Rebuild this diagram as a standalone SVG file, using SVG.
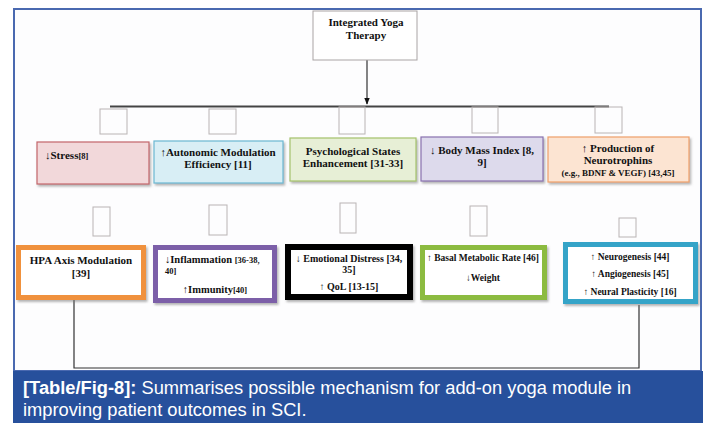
<svg xmlns="http://www.w3.org/2000/svg" width="707" height="423" viewBox="0 0 707 423">
<defs>
<filter id="sh" x="-10%" y="-10%" width="120%" height="130%">
<feDropShadow dx="1.5" dy="2" stdDeviation="1" flood-color="#777" flood-opacity="0.55"/>
</filter>
<marker id="ah" viewBox="0 0 10 10" refX="9" refY="5" markerWidth="6" markerHeight="6" orient="auto">
<path d="M0,1 L10,5 L0,9 z" fill="#111"/>
</marker>
<style>
.t{font-family:"Liberation Serif","Times New Roman",serif;font-weight:bold;fill:#111;}
.s{font-size:8.5px;}
.sq{fill:none;stroke:#b9b4b4;stroke-width:1;}
.ln{fill:none;stroke:#333;stroke-width:1.2;}
.cap{font-family:"Liberation Sans",Arial,sans-serif;font-size:18.3px;fill:#fff;}
</style>
</defs>
<rect x="0" y="0" width="707" height="423" fill="#ffffff"/>
<rect x="14" y="9" width="687" height="362" fill="#fdfdfe" stroke="#4a69b0" stroke-width="2"/>

<g id="connectors">
<line x1="367" y1="60" x2="367" y2="104" class="ln" marker-end="url(#ah)"/>
<line x1="110" y1="106.5" x2="609" y2="106.5" stroke="#444" stroke-width="2"/>
<rect class="sq" x="100" y="109" width="27" height="25"/>
<rect class="sq" x="209" y="109" width="27" height="25"/>
<rect class="sq" x="339" y="107" width="26" height="27"/>
<rect class="sq" x="472" y="107" width="26" height="26"/>
<rect class="sq" x="595" y="107" width="27" height="26"/>
<rect class="sq" x="93" y="207" width="17" height="29"/>
<rect class="sq" x="209" y="205" width="18" height="30"/>
<rect class="sq" x="340" y="203" width="16" height="30"/>
<rect class="sq" x="470" y="206" width="17" height="30"/>
<rect class="sq" x="619" y="218" width="17" height="19"/>
<polyline class="ln" points="74,300 74,368 639,368 639,305"/>
</g>

<g id="top">
<rect x="313" y="11" width="104" height="49" fill="#fff" stroke="#a9a4a4" stroke-width="1"/>
<text class="t" font-size="11" x="366" y="26" text-anchor="middle">Integrated Yoga</text>
<text class="t" font-size="11" x="366" y="39" text-anchor="middle">Therapy</text>
</g>

<g id="stress">
<rect x="37" y="142" width="112" height="42" fill="#f2d8da" stroke="#c3666b" stroke-width="1.2" filter="url(#sh)"/>
<text class="t" font-size="11" x="45" y="159">↓Stress<tspan class="s">[8]</tspan></text>
</g>

<g id="autonomic">
<rect x="154" y="141" width="129" height="42" fill="#d8eef5" stroke="#6cb8d2" stroke-width="1.2" filter="url(#sh)"/>
<text class="t" font-size="11" x="218" y="156" text-anchor="middle">↑Autonomic Modulation</text>
<text class="t" font-size="11" x="218" y="168" text-anchor="middle">Efficiency [11]</text>
</g>

<g id="psych">
<rect x="290" y="138" width="126" height="43" fill="#e7efd6" stroke="#a5c26c" stroke-width="1.2" filter="url(#sh)"/>
<text class="t" font-size="11" x="353" y="155" text-anchor="middle">Psychological States</text>
<text class="t" font-size="11" x="353" y="167" text-anchor="middle">Enhancement [31-33]</text>
</g>

<g id="bmi">
<rect x="421" y="137" width="122" height="44" fill="#dddaec" stroke="#8a72b0" stroke-width="1.2" filter="url(#sh)"/>
<text class="t" font-size="11" x="482" y="154" text-anchor="middle">↓ Body Mass Index [8,</text>
<text class="t" font-size="11" x="482" y="166" text-anchor="middle">9]</text>
</g>

<g id="neurotrophins">
<rect x="548" y="137" width="141" height="45" fill="#fce4d2" stroke="#eea06a" stroke-width="1.2" filter="url(#sh)"/>
<text class="t" font-size="11" x="618" y="152" text-anchor="middle">↑ Production of</text>
<text class="t" font-size="11" x="618" y="164" text-anchor="middle">Neurotrophins</text>
<text class="t" font-size="9" x="618" y="176" text-anchor="middle">(e.g., BDNF &amp; VEGF) [43,45]</text>
</g>

<g id="hpa">
<rect x="18.5" y="247.5" width="125" height="50" fill="#fff" stroke="#f0913d" stroke-width="5" filter="url(#sh)"/>
<text class="t" font-size="11" x="81" y="264" text-anchor="middle">HPA Axis Modulation</text>
<text class="t" font-size="11" x="81" y="277" text-anchor="middle">[39]</text>
</g>

<g id="inflammation">
<rect x="155.5" y="247.5" width="119" height="53" fill="#fff" stroke="#7c5fa8" stroke-width="5" filter="url(#sh)"/>
<text class="t" font-size="10.5" x="165" y="263">↓Inflammation <tspan class="s">[36-38,</tspan></text>
<text class="t s" x="165" y="274">40]</text>
<text class="t" font-size="10.5" x="215" y="293" text-anchor="middle">↑Immunity<tspan class="s">[40]</tspan></text>
</g>

<g id="emotional">
<rect x="288" y="247" width="122" height="50" fill="#fff" stroke="#000" stroke-width="6" filter="url(#sh)"/>
<text class="t" font-size="10" x="349" y="262" text-anchor="middle">↓ Emotional Distress [34,</text>
<text class="t" font-size="10" x="349" y="273" text-anchor="middle">35]</text>
<text class="t" font-size="10" x="349" y="290" text-anchor="middle">↑ QoL [13-15]</text>
</g>

<g id="basal">
<rect x="422.5" y="247.5" width="122" height="50" fill="#fff" stroke="#8cbb3f" stroke-width="5" filter="url(#sh)"/>
<text class="t" font-size="9.5" x="483" y="261" text-anchor="middle">↑ Basal Metabolic Rate [46]</text>
<text class="t" font-size="9.5" x="483" y="281" text-anchor="middle">↓Weight</text>
</g>

<g id="neuro">
<rect x="565.5" y="244.5" width="130" height="57" fill="#fff" stroke="#36a4c8" stroke-width="5" filter="url(#sh)"/>
<text class="t" font-size="9.5" x="630" y="260" text-anchor="middle">↑ Neurogenesis [44]</text>
<text class="t" font-size="9.5" x="630" y="277" text-anchor="middle">↑ Angiogenesis [45]</text>
<text class="t" font-size="9.5" x="630" y="295" text-anchor="middle">↑ Neural Plasticity [16]</text>
</g>

<g id="caption">
<rect x="13" y="371" width="690" height="52" fill="#27509c"/>
<text class="cap" x="23" y="394"><tspan font-weight="bold">[Table/Fig-8]:</tspan> Summarises possible mechanism for add-on yoga module in</text>
<text class="cap" x="23" y="416">improving patient outcomes in SCI.</text>
</g>
</svg>
